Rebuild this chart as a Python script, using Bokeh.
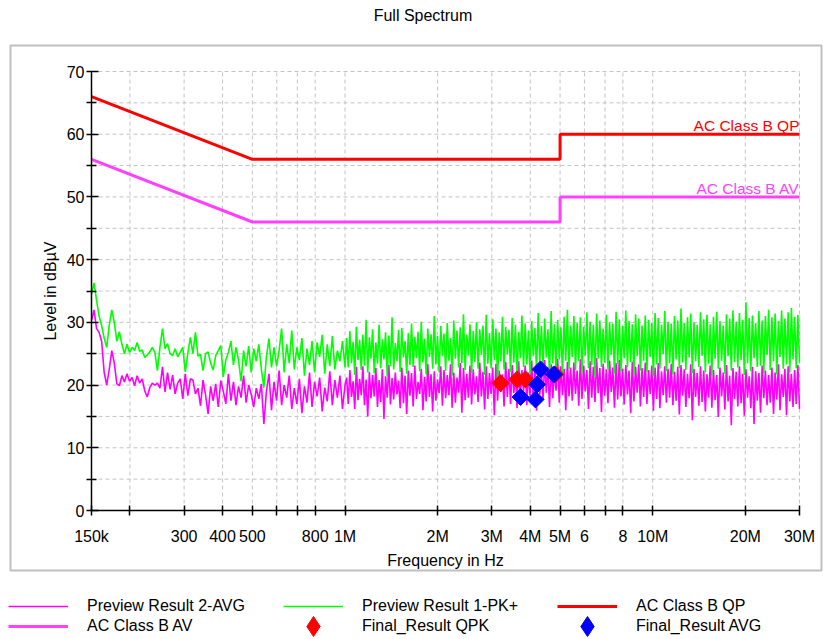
import numpy as np
from bokeh.plotting import figure
from bokeh.models import Range1d, FixedTicker, Legend, LegendItem
from bokeh.embed import file_html
from bokeh.resources import INLINE

# ---------------- data ----------------
# receiver sweep settings (log sweep): (start Hz, stop Hz, points)
SWEEP_A = (150e3, 1e6, 101)
SWEEP_B = (1e6, 30e6, 281)

# Preview Result 1-PK+ (dBuV), 150 kHz - 1 MHz
PK_A = [34.5, 36.3, 33.5, 31.0, 29.5, 27.5, 26.0, 29.5, 32.0, 30.0,
        27.0, 28.5, 26.5, 25.0, 26.5, 25.2, 26.0, 25.5, 26.8, 25.4,
        25.6, 24.4, 24.8, 25.3, 26.0, 25.2, 22.3, 26.0, 29.0, 25.8,
        26.6, 25.0, 24.7, 25.8, 24.5, 25.2, 26.0, 22.1, 25.1, 27.6,
        25.0, 28.4, 24.6, 24.9, 22.3, 25.0, 25.3, 23.5, 22.4, 24.7,
        25.5, 26.3, 21.3, 24.0, 25.2, 27.0, 23.2, 26.0, 24.0, 20.6,
        25.5, 23.0, 26.2, 22.0, 25.8, 23.8, 26.5, 22.5, 19.6, 24.5,
        27.4, 22.8, 26.0, 23.0, 25.5, 29.0, 22.0, 26.5, 23.5, 28.7,
        22.5, 26.0, 24.0, 27.5, 21.5, 25.8, 23.2, 27.0, 22.0, 26.8,
        24.5, 28.0, 21.8, 26.5, 23.0, 27.8, 22.5, 25.5, 23.8, 27.0,
        22.8]
# Preview Result 1-PK+ (dBuV), 1 MHz - 30 MHz
PK_B = [27.5, 22.8, 28.6, 23.5, 26.9, 21.6, 29.3, 24.0, 27.2, 22.4, 28.0, 23.1, 30.4, 22.0, 27.6, 24.2, 28.9, 21.9, 26.8, 23.4,
        29.6, 22.7, 27.3, 24.1, 28.4, 21.4, 27.9, 23.0, 30.8, 22.5, 26.7, 23.8, 28.8, 22.1, 29.1, 24.4, 27.0, 21.8, 28.3, 23.2,
        29.8, 22.9, 27.7, 24.3, 28.5, 22.2, 30.1, 23.6, 27.4, 21.7, 29.0, 24.5, 28.1, 22.6, 31.0, 23.3, 27.8, 22.0, 29.4, 24.6,
        28.2, 22.3, 29.9, 23.9, 27.5, 21.5, 30.3, 24.2, 28.7, 22.8, 29.2, 23.5, 31.3, 22.4, 28.0, 24.7, 29.7, 21.9, 28.6, 23.7,
        30.0, 22.6, 28.9, 24.8, 29.5, 21.6, 31.2, 23.4, 28.3, 22.7, 30.5, 24.0, 29.0, 20.8, 28.4, 23.8, 30.9, 22.5, 29.3, 24.9,
        28.8, 22.1, 30.7, 23.6, 29.6, 21.2, 28.5, 24.3, 31.1, 22.9, 29.8, 23.3, 28.7, 21.9, 30.2, 24.6, 29.1, 22.2, 31.5, 23.7,
        29.4, 22.8, 30.6, 24.4, 28.9, 21.7, 31.8, 23.5, 29.7, 22.3, 30.4, 24.1, 29.2, 21.5, 30.9, 23.9, 32.0, 22.6, 29.5, 24.5,
        31.0, 22.4, 29.9, 23.8, 30.8, 21.9, 29.3, 24.7, 31.6, 22.7, 30.1, 23.2, 29.6, 21.3, 31.4, 24.2, 30.3, 22.9, 29.0, 23.6,
        31.2, 22.5, 30.0, 24.8, 29.8, 21.8, 31.7, 23.4, 30.5, 22.1, 29.4, 24.3, 31.9, 22.8, 30.2, 23.7, 29.7, 21.6, 31.3, 24.6,
        30.6, 22.3, 29.5, 23.9, 31.1, 22.0, 30.4, 24.5, 29.9, 21.4, 31.5, 23.3, 30.7, 22.6, 29.6, 24.9, 31.8, 22.2, 30.1, 23.5,
        29.8, 21.7, 31.0, 24.1, 30.3, 22.7, 32.2, 23.6, 29.9, 22.4, 30.8, 24.4, 31.4, 21.9, 30.0, 23.8, 29.6, 22.9, 31.6, 24.7,
        30.5, 22.1, 31.2, 23.4, 29.7, 21.5, 30.9, 24.2, 31.7, 22.6, 30.2, 23.9, 29.5, 21.8, 31.3, 24.6, 30.6, 22.3, 31.9, 23.7,
        30.1, 22.8, 31.5, 24.0, 30.4, 21.6, 33.2, 23.5, 30.7, 22.2, 31.1, 24.3, 29.9, 22.9, 31.8, 23.1, 30.3, 21.9, 31.0, 24.8,
        32.0, 22.4, 30.8, 23.8, 31.4, 21.7, 30.2, 24.5, 31.9, 22.6, 30.6, 23.3, 31.6, 22.0, 32.3, 24.1, 30.9, 22.7, 31.2, 23.6]

# Preview Result 2-AVG (dBuV), 150 kHz - 1 MHz
AV_A = [30.3, 32.0, 29.0, 28.4, 27.0, 22.0, 20.0, 22.5, 25.5, 23.5,
        20.2, 19.9, 21.5, 20.5, 21.8, 20.6, 21.2, 19.9, 21.5, 20.3,
        21.0, 19.1, 18.1, 19.6, 20.3, 20.0, 20.3, 19.5, 22.9, 18.9,
        22.0, 19.3, 21.6, 18.6, 20.3, 21.0, 17.8, 21.8, 18.3, 21.0,
        20.8, 18.6, 19.5, 16.7, 20.8, 18.4, 15.4, 19.8, 17.5, 20.2,
        16.5, 20.7, 19.0, 17.0, 21.8, 17.5, 20.5, 16.8, 19.8, 18.0,
        21.5, 17.2, 20.0, 18.5, 16.5, 19.5, 17.8, 20.2, 13.8, 19.0,
        21.8, 16.0, 20.5, 17.5, 22.3, 16.8, 20.0, 18.0, 21.5, 16.2,
        19.5, 17.0, 21.0, 15.5, 19.8, 17.2, 22.0, 16.5, 20.5, 18.2,
        21.2, 15.8, 19.6, 17.4, 22.2, 16.8, 20.8, 18.0, 21.5, 16.2,
        20.0]
# Preview Result 2-AVG (dBuV), 1 MHz - 30 MHz
AV_B = [21.2, 17.0, 22.4, 18.1, 20.6, 16.2, 22.9, 17.6, 21.0, 18.4, 23.0, 16.8, 20.9, 15.0, 22.1, 17.9, 21.6, 18.2, 22.7, 16.5,
        20.8, 17.3, 22.5, 14.6, 21.4, 18.0, 23.2, 16.9, 21.1, 17.7, 22.0, 18.5, 20.7, 16.3, 22.8, 17.1, 21.5, 15.4, 22.3, 18.3,
        21.9, 16.6, 23.1, 17.8, 20.5, 18.6, 22.6, 16.0, 21.3, 17.4, 23.4, 18.1, 21.7, 15.8, 22.2, 17.5, 20.9, 18.7, 23.0, 16.7,
        22.4, 17.9, 21.6, 18.4, 23.3, 16.4, 22.0, 17.2, 21.2, 18.8, 23.5, 15.6, 22.7, 17.6, 21.8, 18.0, 23.1, 16.9, 22.5, 18.5,
        21.4, 17.3, 23.6, 18.2, 22.1, 16.1, 23.0, 17.8, 21.9, 18.6, 22.8, 15.2, 23.4, 17.5, 22.3, 18.9, 21.7, 16.6, 23.7, 18.1,
        22.6, 17.0, 23.2, 18.7, 21.8, 16.3, 23.8, 17.7, 22.4, 19.0, 23.1, 16.8, 22.0, 18.3, 23.9, 17.4, 22.7, 15.9, 23.5, 18.5,
        22.2, 17.6, 24.0, 18.8, 22.9, 16.5, 23.3, 17.9, 22.5, 19.1, 24.2, 17.2, 23.0, 18.4, 22.6, 16.0, 23.7, 18.2, 22.8, 17.5,
        23.6, 18.6, 22.3, 16.7, 24.1, 17.8, 23.1, 19.0, 22.4, 16.2, 23.8, 18.0, 22.9, 17.3, 24.3, 18.7, 22.7, 15.7, 23.4, 18.3,
        22.5, 17.1, 23.9, 18.9, 22.8, 16.4, 23.5, 17.7, 24.0, 18.2, 22.6, 16.9, 23.2, 18.5, 22.3, 15.5, 23.7, 17.4, 22.9, 18.8,
        23.3, 16.6, 22.7, 18.1, 23.6, 17.0, 22.4, 18.6, 23.1, 15.9, 22.8, 17.8, 23.5, 16.3, 22.2, 18.4, 23.0, 17.2, 22.6, 18.0,
        23.4, 16.8, 22.1, 17.5, 22.9, 15.3, 23.2, 18.3, 22.5, 16.5, 21.8, 17.9, 23.3, 14.4, 22.6, 18.1, 21.9, 16.7, 23.0, 17.3,
        22.3, 15.8, 21.7, 18.0, 23.1, 16.4, 22.4, 17.6, 21.6, 14.9, 22.8, 18.2, 22.0, 16.1, 23.2, 17.4, 21.5, 13.6, 22.7, 17.8,
        22.1, 16.6, 23.0, 17.1, 21.8, 15.1, 22.5, 18.0, 21.4, 16.3, 22.9, 13.8, 22.2, 17.5, 21.9, 15.6, 23.1, 17.9, 22.3, 16.8,
        21.6, 17.2, 22.8, 15.4, 22.0, 17.7, 23.3, 16.0, 21.7, 18.1, 22.6, 15.2, 23.0, 17.4, 21.8, 16.5, 22.4, 17.0, 23.2, 16.2]

# limit lines
LIMIT_F = [150e3, 500e3, 5e6, 5e6, 30e6]
QP_LIMIT = [66, 56, 56, 60, 60]
AV_LIMIT = [56, 46, 46, 50, 50]

# final results
QPK_F = [3.20e6, 3.63e6, 3.86e6, 4.83e6]
QPK_L = [20.3, 20.9, 20.9, 21.7]
AVG_F = [3.72e6, 4.16e6, 4.21e6, 4.32e6, 4.77e6]
AVG_L = [18.1, 17.7, 20.1, 22.5, 21.7]

# axis ticks
X_TICKS = [150000, 200000, 300000, 400000, 500000, 600000, 700000, 800000, 1000000,
           2000000, 3000000, 4000000, 5000000, 6000000, 7000000, 8000000,
           10000000, 20000000, 30000000]
X_LABELS = ["150k", "", "300", "400", "500", "", "", "800", "1M",
            "2M", "3M", "4M", "5M", "6", "", "8", "10M", "20M", "30M"]
Y_TICKS = [0, 10, 20, 30, 40, 50, 60, 70]
Y_MINOR = [5, 15, 25, 35, 45, 55, 65]

FREQ = np.concatenate([np.geomspace(*SWEEP_A), np.geomspace(*SWEEP_B)[1:]])
PK = PK_A + PK_B
AV = AV_A + AV_B

# ---------------- layout (pixels) ----------------
W, H = 823, 639
PX_X0, PX_X1 = 91, 799      # columns of the first / last frequency tick
PX_YTOP, PX_YBOT = 71, 510  # rows of the top / bottom level tick
F_LO, F_HI = X_TICKS[0], X_TICKS[-1]
L_LO, L_HI = Y_TICKS[0], Y_TICKS[-1]
DEC_PER_PX = (np.log10(F_HI) - np.log10(F_LO)) / (PX_X1 - PX_X0)
DB_PER_PX = (L_HI - L_LO) / (PX_YBOT - PX_YTOP)


def fx(px):
    return 10 ** (np.log10(F_LO) + (px - PX_X0) * DEC_PER_PX)


def fy(py):
    return L_LO + (PX_YBOT - py) * DB_PER_PX


FONT = "Liberation Sans"
GRID = "#c4c4c4"

p = figure(width=W, height=H, x_axis_type="log",
           x_range=Range1d(fx(0), fx(W)), y_range=Range1d(fy(H), fy(0)),
           output_backend="svg", toolbar_location=None, min_border=0)
p.outline_line_color = None
p.background_fill_color = "white"
p.border_fill_color = "white"
p.grid.visible = False

# axes fixed at the data origin
p.xaxis.fixed_location = L_LO
p.xaxis.bounds = (F_LO, F_HI)
p.yaxis.fixed_location = F_LO
p.yaxis.bounds = (L_LO, L_HI)

xt = FixedTicker(ticks=X_TICKS)
p.xaxis.ticker = xt
p.xaxis.major_label_overrides = {t: l for t, l in zip(X_TICKS, X_LABELS)}
p.yaxis.ticker = FixedTicker(ticks=Y_TICKS, minor_ticks=Y_MINOR)

for ax in (p.xaxis[0], p.yaxis[0]):
    ax.axis_line_width = 1.5
    ax.axis_line_color = "black"
    ax.major_tick_line_width = 1.5
    ax.major_tick_line_color = "black"
    ax.minor_tick_line_width = 1.5
    ax.minor_tick_line_color = "black"
    ax.major_label_text_font = FONT
    ax.major_label_text_font_size = "16px"
    ax.major_label_text_color = "black"
    ax.axis_label_text_font = FONT
    ax.axis_label_text_font_size = "16px"
    ax.axis_label_text_font_style = "normal"
    ax.axis_label_text_color = "black"

p.xaxis.axis_label = "Frequency in Hz"
p.xaxis.major_tick_in = 5
p.xaxis.major_tick_out = 5
p.xaxis.minor_tick_line_color = None
p.xaxis.major_label_standoff = 12
p.xaxis.axis_label_standoff = 4

p.yaxis.axis_label = "Level in dB\u00b5V"
p.yaxis.major_tick_in = 7
p.yaxis.major_tick_out = 5
p.yaxis.minor_tick_in = 5
p.yaxis.minor_tick_out = 5
p.yaxis.major_label_standoff = 2
p.yaxis.axis_label_standoff = 5

# outer panel frame
p.quad(left=[fx(10)], right=[fx(821)], top=[fy(45)], bottom=[fy(570)],
       fill_color=None, line_color="#c0c0c0", line_width=2)

# title
p.text(x=[fx(422.5)], y=[fy(15)], text=["Full Spectrum"], text_align="center",
       text_baseline="middle", text_color="black",
       text_font={"value": FONT}, text_font_size="16px")

# dashed grid at the ticks
p.segment(x0=X_TICKS[1:], y0=[L_LO] * (len(X_TICKS) - 1), x1=X_TICKS[1:], y1=[L_HI] * (len(X_TICKS) - 1),
          line_color=GRID, line_dash="4 3", line_width=1)
YG = Y_TICKS[1:] + Y_MINOR
p.segment(x0=[F_LO] * len(YG), y0=YG, x1=[F_HI] * len(YG), y1=YG,
          line_color=GRID, line_dash="4 3", line_width=1)

# traces
r_av = p.line(FREQ, AV, line_color="#ff00ff", line_width=1.6)
r_pk = p.line(FREQ, PK, line_color="#00ff00", line_width=1.6)
r_qp_lim = p.line(LIMIT_F, QP_LIMIT, line_color="#ff0000", line_width=3)
r_av_lim = p.line(LIMIT_F, AV_LIMIT, line_color="#ff40ff", line_width=3)
r_qpk = p.scatter(QPK_F, QPK_L, marker="square", angle=np.pi / 4, size=12,
                  fill_color="#ff0000", line_color="#ff0000")
r_avg = p.scatter(AVG_F, AVG_L, marker="square", angle=np.pi / 4, size=12,
                  fill_color="#0000ff", line_color="#0000ff")

# legend-only diamond samples: one point each, placed below the visible canvas
k_qpk = p.scatter(x=QPK_F[:1], y=[fy(H) - 50], marker="diamond",
                  fill_color="#ff0000", line_color="#ff0000")
k_avg = p.scatter(x=AVG_F[:1], y=[fy(H) - 50], marker="diamond",
                  fill_color="#0000ff", line_color="#0000ff")

p.text(x=[LIMIT_F[-1]], y=[QP_LIMIT[-1]], text=["AC Class B QP"], text_align="right",
       text_baseline="bottom", text_color="#ff0000",
       text_font={"value": FONT}, text_font_size="15.5px")
p.text(x=[LIMIT_F[-1]], y=[AV_LIMIT[-1]], text=["AC Class B AV"], text_align="right",
       text_baseline="bottom", text_color="#ff40ff",
       text_font={"value": FONT}, text_font_size="15.5px")

# legends: one per entry, laid out in 3 columns x 2 rows
entries = [
    ("Preview Result 2-AVG", r_av, 8, 606), ("AC Class B AV", r_av_lim, 8, 626),
    ("Preview Result 1-PK+", r_pk, 283, 606), ("Final_Result QPK", k_qpk, 283, 626),
    ("AC Class B QP", r_qp_lim, 557, 606), ("Final_Result AVG", k_avg, 557, 626),
]
ROW_H = 50
for label, r, x0, yc in entries:
    leg = Legend(items=[LegendItem(label=label, renderers=[r])],
                 location=(x0, H - (yc + ROW_H // 2)), orientation="vertical",
                 glyph_width=60, glyph_height=ROW_H, label_height=ROW_H, label_standoff=19,
                 padding=0, spacing=0, margin=0,
                 border_line_alpha=0, background_fill_alpha=0,
                 label_text_font=FONT, label_text_font_size="16px", label_text_color="black")
    p.add_layout(leg)

open("out.html", "w").write(file_html(p, INLINE))
